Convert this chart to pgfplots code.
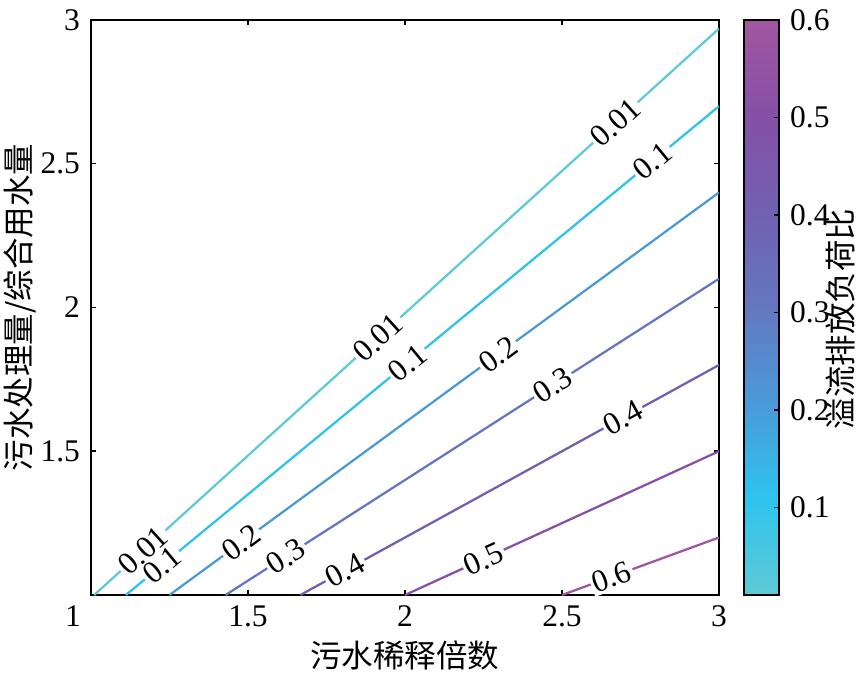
\documentclass[border=0pt]{standalone}
\usepackage{fontspec}
\setmainfont{Liberation Serif}
\newfontfamily\cjk{Noto Sans CJK SC}
\usepackage{pgfplots}
\pgfplotsset{compat=1.18}

\definecolor{cA}{RGB}{95,201,212}
\definecolor{cB}{RGB}{46,194,236}
\definecolor{cC}{RGB}{74,154,216}
\definecolor{cD}{RGB}{100,118,192}
\definecolor{cE}{RGB}{114,94,176}
\definecolor{cF}{RGB}{136,78,168}
\definecolor{cG}{RGB}{160,84,162}

\begin{document}
\fontsize{10.5}{12.6}\selectfont
\begin{tikzpicture}[
  lab/.style={sloped, fill=white, inner sep=0.8pt, text=black, font=\fontsize{10.5}{12}\selectfont},
  cl/.style={line width=0.75pt}
]
\begin{axis}[
  scale only axis, width=209.33pt, height=191.67pt,
  xmin=1, xmax=3, ymin=1, ymax=3,
  xtick={1.5,2,2.5,3}, ytick={1.5,2,2.5,3},
  extra x ticks={1},
  extra x tick style={xticklabel style={xshift=-6pt}},
  tick align=inside, tick pos=both,
  major tick length=1.7pt,
  every tick/.style={black, line width=0.5pt},
  axis line style={line width=0.6pt},
  /pgf/number format/assume math mode=true,
  ticklabel style={font=\fontsize{10.5}{12}\selectfont},
  xlabel={\cjk 污水稀释倍数},
  xlabel style={at={(axis description cs:0.5,-0.1043)}, anchor=center},
  ylabel={\cjk 污水处理量/综合用水量},
  ylabel style={at={(axis description cs:-0.1132,0.5)}, anchor=center},
  colormap={mymap}{rgb255=(95,201,212) rgb255=(46,196,238) rgb255=(74,154,216) rgb255=(100,120,192) rgb255=(114,96,176) rgb255=(133,80,166) rgb255=(162,86,160)},
  point meta min=0.01, point meta max=0.6,
  colorbar,
  colorbar style={
    width=11.67pt,
    at={(parent axis.north east)}, anchor=north west, xshift=-0.17pt,
    ytick={0.1,0.2,0.3,0.4,0.5,0.6},
    yticklabel style={/pgf/number format/fixed, /pgf/number format/precision=1, font=\fontsize{10.5}{12}\selectfont},
    /pgf/number format/assume math mode=true,
    tick align=inside, ytick pos=right, yticklabel pos=right,
    major tick length=1.7pt,
    every tick/.style={black, line width=0.5pt},
    axis line style={line width=0.6pt},
    ylabel={\cjk 溢流排放负荷比},
    ylabel style={at={(axis description cs:2.74,0.48)}, anchor=center},
  },
]
\coordinate (O) at (rel axis cs:0,0);

\addplot[cl, cA] coordinates {(1.0101,1) (3,2.97)}
  node[lab, pos=0.0783]{0.01} node[lab, pos=0.4543]{0.01} node[lab, pos=0.8342]{0.01};
\addplot[cl, cB] coordinates {(1.1111,1) (3,2.7)}
  node[lab, pos=0.0608]{0.1} node[lab, pos=0.4749]{0.1} node[lab, pos=0.8878]{0.1};
\addplot[cl, cC] coordinates {(1.25,1) (3,2.4)}
  node[lab, pos=0.1303]{0.2} node[lab, pos=0.5977]{0.2};
\addplot[cl, cD] coordinates {(1.4286,1) (3,2.1)}
  node[lab, pos=0.1224]{0.3} node[lab, pos=0.6634]{0.3};
\addplot[cl, cE] coordinates {(1.6667,1) (3,1.8)}
  node[lab, pos=0.1067]{0.4} node[lab, pos=0.7705]{0.4};
\addplot[cl, cF] coordinates {(2,1) (3,1.5)}
  node[lab, pos=0.25]{0.5};
\addplot[cl, cG] coordinates {(2.5,1) (3,1.2)}
  node[lab, pos=0.316]{0.6};
\end{axis}
\pgfresetboundingbox
\path ([shift={(-30.33pt,-26.33pt)}]O) rectangle ([shift={(258pt,198.33pt)}]O);
\end{tikzpicture}
\end{document}
